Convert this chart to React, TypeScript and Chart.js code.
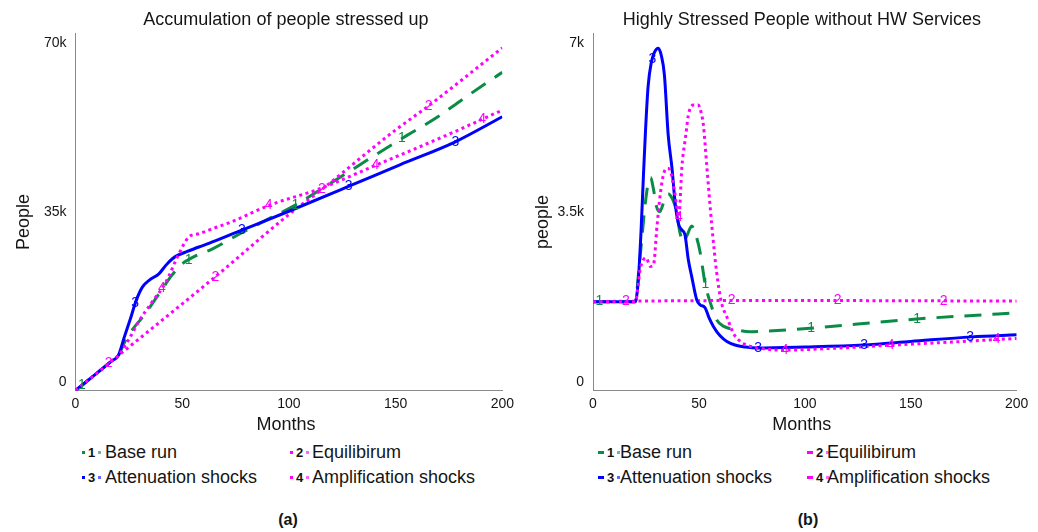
import React, { useEffect, useRef } from "react";
import { Chart, registerables } from "chart.js";

Chart.register(...registerables);

const FONT = '"Liberation Sans", Arial, Helvetica, sans-serif';
const GREEN = "#0b8c46";
const BLUE = "#0000ff";
const MAGENTA = "#ff00ff";
const TEXT = "#151515";
const AXIS = "#8a8a8a";

// ---------- shared ----------
const SERIES_NAMES = ["Base run", "Equilibirum", "Attenuation shocks", "Amplification shocks"];
const SERIES_NUMS = ["1", "2", "3", "4"];
const X_TICKS = [0, 50, 100, 150, 200];
const LABEL_MONTHS_BASE = [3, 53, 103, 153];
const LABEL_MONTHS_EQ = [15.5, 65.5, 115.5, 165.5];
const LABEL_MONTHS_ATT = [28, 78, 128, 178];
const LABEL_MONTHS_AMP = [40.5, 90.5, 140.5, 190.5];

// ---------- panel (a): Accumulation of people stressed up (thousands) ----------
const A_TITLE = "Accumulation of people stressed up";
const A_Y_TITLE = "People";
const A_Y_TICKS = [0, 35, 70];
const A_Y_TICK_LABELS = ["0", "35k", "70k"];

const A_BASE_MONTHS = [0, 10, 17, 20, 24, 32.6, 40.7, 45, 50, 56, 64, 77, 90, 103, 115, 128, 140, 155.5, 168.7, 181, 193.5, 200];
const A_BASE = [0, 3.4, 5.8, 6.8, 10.3, 15.0, 19.9, 22.5, 24.8, 26.3, 27.7, 30.7, 33.5, 36.3, 39.4, 42.8, 46.0, 50.0, 53.3, 56.9, 60.5, 62.3];

const A_EQ_MONTHS = [0, 10, 20, 65, 101, 114, 149, 165, 200];
const A_EQ = [0, 3.4, 6.8, 22.1, 34.8, 38.9, 50.7, 55.6, 67.1];

const A_ATT_MONTHS = [0, 10, 17, 20, 22.9, 26, 28.4, 31.4, 34.6, 39.2, 42.3, 45.4, 48, 51.6, 57.8, 62.5, 75.6, 100, 127.6, 152, 178, 200];
const A_ATT = [0, 3.4, 5.8, 6.8, 10.5, 14.4, 17.6, 20.3, 21.6, 22.9, 24.5, 25.8, 26.5, 27.1, 28.1, 28.8, 31.0, 35.1, 39.9, 44.2, 48.7, 53.6];

const A_AMP_MONTHS = [0, 10, 17, 20, 25, 29.9, 35, 42.3, 48.5, 53.2, 57.8, 65, 73, 91, 114.4, 140.7, 175.6, 200];
const A_AMP = [0, 3.4, 5.8, 6.8, 10.0, 13.7, 16.8, 21.2, 26.8, 30.1, 30.7, 31.8, 33.0, 36.3, 39.5, 44.1, 50.3, 54.9];

// ---------- panel (b): Highly Stressed People without HW Services (thousands) ----------
const B_TITLE = "Highly Stressed People without HW Services";
const B_Y_TITLE = "people";
const B_Y_TICKS = [0, 3.5, 7];
const B_Y_TICK_LABELS = ["0", "3.5k", "7k"];

const B_BASE_MONTHS = [0, 20, 21.5, 23, 24.5, 26, 27.2, 28.5, 30, 31.5, 33.5, 35.5, 37.5, 39.5, 41, 42.6, 44.5, 46.6, 48.5, 50.5, 52.9, 56, 58.4, 62, 67.8, 74, 85, 102.4, 125, 152.8, 175, 200];
const B_BASE = [1.74, 1.74, 2.3, 2.95, 3.6, 4.05, 4.17, 3.95, 3.6, 3.5, 3.7, 3.85, 3.75, 3.49, 3.1, 2.9, 3.05, 3.22, 3.05, 2.72, 2.1, 1.64, 1.38, 1.25, 1.19, 1.15, 1.17, 1.22, 1.30, 1.40, 1.46, 1.52];

const B_EQ_MONTHS = [0, 20, 60, 120, 200];
const B_EQ = [1.74, 1.75, 1.76, 1.76, 1.75];

const B_ATT_MONTHS = [0, 20, 20.6, 21.4, 22.7, 23.8, 24.8, 26, 27.6, 29, 30.8, 32.3, 33.7, 35.5, 37.3, 38.7, 40.3, 41.8, 43.4, 45, 46.6, 49, 50.5, 52.9, 54.8, 56.9, 60, 63.2, 67, 72, 77.4, 100, 127.6, 150, 178.7, 200];
const B_ATT = [1.74, 1.74, 1.84, 2.16, 3.14, 4.2, 5.1, 5.95, 6.44, 6.62, 6.70, 6.55, 6.18, 5.0, 4.35, 3.7, 3.27, 3.15, 3.05, 2.56, 2.23, 1.77, 1.68, 1.62, 1.42, 1.25, 1.07, 0.96, 0.89, 0.85, 0.83, 0.85, 0.89, 0.96, 1.05, 1.09];

const B_AMP_MONTHS = [0, 20, 21, 22.2, 23.8, 25, 27.1, 28.5, 30.2, 31.8, 33.4, 35, 36.5, 38.5, 40.5, 42, 43.8, 45, 47.4, 49.7, 51, 52.1, 53.7, 56, 58.4, 60.7, 63.1, 66.3, 69, 72.6, 80, 89.9, 110, 141.8, 170, 200];
const B_AMP = [1.74, 1.74, 1.95, 2.36, 2.56, 2.6, 2.43, 2.45, 3.21, 3.86, 4.25, 4.35, 4.3, 3.9, 3.4, 4.4, 5.0, 5.39, 5.59, 5.59, 5.45, 5.2, 4.4, 3.27, 2.3, 1.71, 1.45, 1.12, 0.98, 0.89, 0.82, 0.79, 0.82, 0.89, 0.95, 1.02];

type Series = {
  num: string;
  months: number[];
  values: number[];
  color: string;
  dash: number[];
  labelMonths: number[];
  order: number;
};

const STYLE = [
  { color: GREEN, dash: [17, 11], order: 4 },
  { color: MAGENTA, dash: [3, 3.5], order: 3 },
  { color: BLUE, dash: [], order: 2 },
  { color: MAGENTA, dash: [3, 3.5], order: 1 },
];

function buildSeries(monthsList: number[][], valuesList: number[][]): Series[] {
  const labels = [LABEL_MONTHS_BASE, LABEL_MONTHS_EQ, LABEL_MONTHS_ATT, LABEL_MONTHS_AMP];
  return monthsList.map((m, i) => ({
    num: SERIES_NUMS[i],
    months: m,
    values: valuesList[i],
    color: STYLE[i].color,
    dash: STYLE[i].dash,
    labelMonths: labels[i],
    order: STYLE[i].order,
  }));
}

function interp(xs: number[], ys: number[], x: number) {
  for (let i = 1; i < xs.length; i++) {
    if (x <= xs[i]) {
      const t = (x - xs[i - 1]) / (xs[i] - xs[i - 1]);
      return ys[i - 1] + t * (ys[i] - ys[i - 1]);
    }
  }
  return ys[ys.length - 1];
}

type PanelProps = {
  left: number;
  title: string;
  yTitle: string;
  yTicks: number[];
  yTickLabels: string[];
  series: Series[];
  areaLeft: number;
  padRight: number;
};

const CW = 519;
const CH = 440;

function Panel(p: PanelProps) {
  const ref = useRef<HTMLCanvasElement>(null);
  useEffect(() => {
    const yMin = p.yTicks[0];
    const yMax = p.yTicks[p.yTicks.length - 1];
    const textPlugin = {
      id: "panelText",
      afterDatasetsDraw(chart: any) {
        const { ctx } = chart;
        const xs = chart.scales.x;
        const ys = chart.scales.y;
        ctx.save();
        ctx.font = `14px ${FONT}`;
        ctx.textAlign = "center";
        ctx.textBaseline = "middle";
        p.series.forEach((s) => {
          ctx.fillStyle = s.color;
          s.labelMonths.forEach((m) => {
            const v = interp(s.months, s.values, m);
            ctx.fillText(s.num, xs.getPixelForValue(m), ys.getPixelForValue(v));
          });
        });
        ctx.restore();
      },
      afterDraw(chart: any) {
        const { ctx, chartArea } = chart;
        const ys = chart.scales.y;
        const cx = (chartArea.left + chartArea.right) / 2 - 3;
        ctx.save();
        ctx.fillStyle = TEXT;
        ctx.font = `18px ${FONT}`;
        ctx.textAlign = "center";
        ctx.textBaseline = "middle";
        ctx.fillText(p.title, cx, 20);
        ctx.fillText("Months", cx, 425);
        ctx.save();
        ctx.translate(24, 222);
        ctx.rotate(-Math.PI / 2);
        ctx.fillText(p.yTitle, 0, 0);
        ctx.restore();
        ctx.font = `14px ${FONT}`;
        ctx.textAlign = "right";
        p.yTicks.forEach((t, i) => {
          let y = ys.getPixelForValue(t);
          if (t === yMax) y += 10;
          else if (t === yMin) y -= 8;
          ctx.fillText(p.yTickLabels[i], chartArea.left - 9, y);
        });
        ctx.restore();
      },
    };
    const chart = new Chart(ref.current as HTMLCanvasElement, {
      type: "line",
      data: {
        datasets: p.series.map((s) => ({
          label: s.num,
          data: s.months.map((m, i) => ({ x: m, y: s.values[i] })),
          borderColor: s.color,
          backgroundColor: s.color,
          borderWidth: 3,
          borderDash: s.dash,
          borderCapStyle: "butt",
          pointRadius: 0,
          fill: false,
          cubicInterpolationMode: "monotone",
          order: s.order,
        })),
      } as any,
      options: {
        animation: false,
        responsive: false,
        maintainAspectRatio: false,
        events: [],
        layout: { padding: { top: 33, right: p.padRight, left: 0, bottom: 0 } },
        plugins: {
          legend: { display: false },
          tooltip: { enabled: false },
          title: { display: false },
        },
        scales: {
          x: {
            type: "linear",
            min: X_TICKS[0],
            max: X_TICKS[X_TICKS.length - 1],
            afterBuildTicks: (s: any) => {
              s.ticks = X_TICKS.map((v) => ({ value: v }));
            },
            ticks: {
              font: { family: FONT, size: 14 },
              color: TEXT,
              padding: 5,
              maxRotation: 0,
              autoSkip: false,
            },
            grid: { display: false, drawTicks: false },
            border: { display: true, color: AXIS, width: 1 },
            afterFit: (s: any) => {
              s.height = CH - 390.5;
            },
          },
          y: {
            type: "linear",
            min: yMin,
            max: yMax,
            ticks: { display: false },
            grid: { display: false, drawTicks: false },
            border: { display: true, color: AXIS, width: 1 },
            afterFit: (s: any) => {
              s.width = p.areaLeft;
            },
          },
        },
      } as any,
      plugins: [textPlugin],
    });
    return () => chart.destroy();
  }, []);
  return (
    <canvas
      ref={ref}
      width={CW}
      height={CH}
      style={{ position: "absolute", left: p.left, top: 0, width: CW, height: CH }}
    />
  );
}

function Marker({ color, num, x, y, wide }: { color: string; num: string; x: number; y: number; wide: boolean }) {
  return (
    <div
      style={{
        position: "absolute",
        left: x,
        top: y - 10,
        height: 20,
        display: "flex",
        alignItems: "center",
        gap: 3,
      }}
    >
      <span style={{ display: "inline-block", width: wide ? 6 : 3, height: 3, background: color }} />
      <span style={{ fontFamily: FONT, fontWeight: "bold", fontSize: 13, color: "#111" }}>{num}</span>
      <span style={{ display: "inline-block", width: 3, height: 3, background: color, opacity: 0.6 }} />
    </div>
  );
}

function Legend({ markerX, textX, wide }: { markerX: number[]; textX: number[]; wide: boolean }) {
  const rows = [452, 477];
  return (
    <>
      {SERIES_NAMES.map((name, i) => {
        const col = i % 2;
        const row = Math.floor(i / 2);
        return (
          <React.Fragment key={i}>
            <Marker color={STYLE[i].color} num={SERIES_NUMS[i]} x={markerX[col]} y={rows[row]} wide={wide} />
            <div
              style={{
                position: "absolute",
                left: textX[col],
                top: rows[row] - 11,
                lineHeight: "22px",
                fontFamily: FONT,
                fontSize: 18,
                color: TEXT,
                whiteSpace: "nowrap",
              }}
            >
              {name}
            </div>
          </React.Fragment>
        );
      })}
    </>
  );
}

export default function App() {
  const seriesA = buildSeries([A_BASE_MONTHS, A_EQ_MONTHS, A_ATT_MONTHS, A_AMP_MONTHS], [A_BASE, A_EQ, A_ATT, A_AMP]);
  const seriesB = buildSeries([B_BASE_MONTHS, B_EQ_MONTHS, B_ATT_MONTHS, B_AMP_MONTHS], [B_BASE, B_EQ, B_ATT, B_AMP]);
  const captionStyle: React.CSSProperties = {
    position: "absolute",
    top: 510,
    width: 60,
    textAlign: "center",
    fontFamily: FONT,
    fontWeight: "bold",
    fontSize: 16,
    lineHeight: "20px",
    color: TEXT,
  };
  return (
    <div
      style={{
        position: "fixed",
        left: 0,
        top: 0,
        width: 1038,
        height: 532,
        background: "#fff",
        overflow: "hidden",
      }}
    >
      <Panel
        left={0}
        title={A_TITLE}
        yTitle={A_Y_TITLE}
        yTicks={A_Y_TICKS}
        yTickLabels={A_Y_TICK_LABELS}
        series={seriesA}
        areaLeft={75.5}
        padRight={13.3}
      />
      <Panel
        left={519}
        title={B_TITLE}
        yTitle={B_Y_TITLE}
        yTicks={B_Y_TICKS}
        yTickLabels={B_Y_TICK_LABELS}
        series={seriesB}
        areaLeft={74}
        padRight={21.3}
      />
      <Legend markerX={[82, 290]} textX={[105, 312]} wide={false} />
      <Legend markerX={[598, 807]} textX={[620, 827]} wide={true} />
      <div style={{ ...captionStyle, left: 258 }}>(a)</div>
      <div style={{ ...captionStyle, left: 778 }}>(b)</div>
    </div>
  );
}
